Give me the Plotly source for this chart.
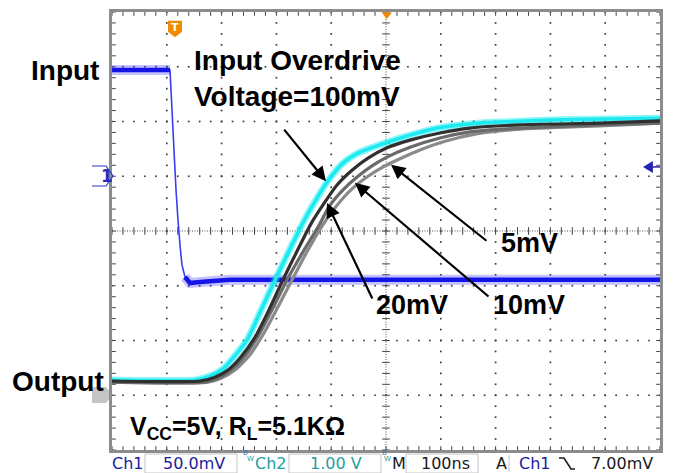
import plotly.graph_objects as go

# ---------------- data (time in ns, 100 ns/div; vertical in screen divisions) ----------------
t_input = [-500, -397.8, -394.2, -390.5, -386.9, -383.2, -379.6, -375.9, -372.3, -366.8, -357.7, -339.4, -284.7, 500]
v_input = [2.94, 2.94, 2.94, 2.21, 1.48, 0.75, 0.20, -0.26, -0.62, -0.84, -0.95, -0.93, -0.89, -0.89]

t_out_100mv = [-500, -348.5, -321.2, -297.4, -279.2, -253.6, -226.3, -198.9, -173.4, -147.8, -125.9, -107.7,
               -78.5, -47.4, 1.8, 43.8, 93.1, 147.8, 208.0, 317.5, 500]
v_out_100mv = [-2.72, -2.72, -2.65, -2.52, -2.32, -1.99, -1.41, -0.82, -0.29, 0.22, 0.60, 0.89,
               1.24, 1.44, 1.62, 1.75, 1.88, 1.95, 1.99, 2.03, 2.06]

t_out_20mv = [-500, -339.4, -312.0, -288.3, -266.4, -239.1, -213.5, -188.0, -162.4, -136.9, -111.3, -89.4,
              -62.0, -32.8, 1.8, 43.8, 98.5, 153.3, 244.5, 390.5, 500]
v_out_20mv = [-2.74, -2.74, -2.67, -2.54, -2.32, -1.94, -1.44, -0.89, -0.37, 0.13, 0.53, 0.84,
              1.11, 1.33, 1.52, 1.66, 1.79, 1.88, 1.94, 1.97, 2.01]

t_out_10mv = [-500, -330.3, -306.6, -282.8, -257.3, -229.9, -204.4, -178.8, -149.6, -124.1, -102.2, -76.6,
              -51.1, -25.5, 1.8, 43.8, 98.5, 153.3, 244.5, 390.5, 500]
v_out_10mv = [-2.76, -2.76, -2.69, -2.54, -2.28, -1.86, -1.37, -0.86, -0.35, 0.07, 0.47, 0.77,
              1.00, 1.19, 1.35, 1.53, 1.70, 1.81, 1.88, 1.94, 1.97]

t_out_5mv = [-500, -324.8, -301.1, -275.5, -248.2, -220.8, -195.3, -169.7, -144.2, -116.8, -89.4, -62.0,
             -32.8, -1.8, 25.5, 62.0, 107.7, 162.4, 244.5, 390.5, 500]
v_out_5mv = [-2.76, -2.76, -2.69, -2.54, -2.26, -1.83, -1.35, -0.86, -0.38, 0.09, 0.47, 0.77,
             1.00, 1.19, 1.32, 1.48, 1.64, 1.77, 1.86, 1.92, 1.97]

# arrow annotations: tip (t, div), tail (t, div)
arrow_tips_t = [-109.5, -107.7, -56.6, 9.1]
arrow_tips_v = [0.91, 0.51, 0.88, 1.21]
arrow_tails_t = [-188.0, -23.7, 189.8, 186.1]
arrow_tails_v = [1.88, -1.26, -1.22, -0.20]

status_texts = ["Ch1", "50.0mV", "Ch2", "1.00 V", "M", "100ns", "A", "Ch1", "7.00mV"]

# ---------------- geometry ----------------
W, H = 674, 473
ML, MR, MT, MB = 112, 14, 12, 23
X0, X1, Y0, Y1 = -500, 500, -4, 4


def P(px, py):
    """pixel -> paper coords"""
    return (px - ML) / (W - ML - MR), ((H - MB) - py) / (H - MT - MB)


fig = go.Figure()

# ---- graticule dots ----
gx, gy = [], []
for i in range(1, 10):
    if i == 5:
        continue
    x = X0 + 100 * i
    for j in range(41):
        gx.append(x); gy.append(Y0 + 0.2 * j)
for k in range(1, 8):
    if k == 4:
        continue
    y = Y0 + k
    for j in range(51):
        gx.append(X0 + 20 * j); gy.append(y)
fig.add_trace(go.Scatter(x=gx, y=gy, mode='markers', hoverinfo='skip',
                         marker=dict(symbol='square', size=1.7, color='#3a3a3a', line=dict(width=0))))

# ---- center cross ticks and border ticks ----
tx, ty = [], []
for j in range(51):
    x = X0 + 20 * j
    tx += [x, x, None]; ty += [-0.07, 0.07, None]
    tx += [x, x, None]; ty += [Y1, Y1 - 0.07, None]
    tx += [x, x, None]; ty += [Y0, Y0 + 0.07, None]
for j in range(41):
    y = Y0 + 0.2 * j
    tx += [-7, 7, None]; ty += [y, y, None]
    tx += [X0, X0 + 7, None]; ty += [y, y, None]
    tx += [X1, X1 - 7, None]; ty += [y, y, None]
fig.add_trace(go.Scatter(x=tx, y=ty, mode='lines', hoverinfo='skip',
                         line=dict(color='#444', width=1)))

shapes = [
    dict(type='line', xref='x', yref='y', x0=0, x1=0, y0=Y0, y1=Y1,
         line=dict(color='#555', width=1, dash='1px,1.5px'), layer='below'),
    dict(type='line', xref='x', yref='y', x0=X0, x1=X1, y0=0, y1=0,
         line=dict(color='#555', width=1, dash='1px,1.5px'), layer='below'),
]

# ---- input (blue): thin edge, thick noisy flat levels ----
BLUE = '#1414e6'
fig.add_trace(go.Scatter(x=t_input, y=v_input, mode='lines', hoverinfo='skip',
                         line=dict(color='#3c3cf0', width=1.6, simplify=False)))
flat_t = t_input[0:3] + [None] + t_input[9:]
flat_v = v_input[0:3] + [None] + v_input[9:]
fig.add_trace(go.Scatter(x=flat_t, y=flat_v, mode='lines', hoverinfo='skip', connectgaps=False,
                         line=dict(color='rgba(70,70,255,0.33)', width=10, simplify=False)))
fig.add_trace(go.Scatter(x=flat_t, y=flat_v, mode='lines', hoverinfo='skip', connectgaps=False,
                         line=dict(color=BLUE, width=4.5, simplify=False)))

# ---- outputs ----
fig.add_trace(go.Scatter(x=t_out_100mv, y=v_out_100mv, mode='lines', hoverinfo='skip',
                         line=dict(color='rgba(0,235,245,0.45)', width=7, shape='spline', smoothing=0.6)))
fig.add_trace(go.Scatter(x=t_out_100mv, y=v_out_100mv, mode='lines', hoverinfo='skip',
                         line=dict(color='#1ee8f0', width=3.5, shape='spline', smoothing=0.6)))
for tt, vv, col in [(t_out_5mv, v_out_5mv, '#8a8a8a'),
                    (t_out_10mv, v_out_10mv, '#6a6a6a'),
                    (t_out_20mv, v_out_20mv, '#303030')]:
    fig.add_trace(go.Scatter(x=tt, y=vv, mode='lines', hoverinfo='skip',
                             line=dict(color=col, width=3.2, shape='spline', smoothing=0.6)))

ann = []
LBL = dict(family='Liberation Sans, Arial, sans-serif', size=28, color='black')


def label(text, px, py, size=28, anchor='left'):
    x, y = P(px, py)
    f = dict(LBL); f['size'] = size
    ann.append(dict(text=text, x=x, y=y, xref='paper', yref='paper', xanchor=anchor, yanchor='middle',
                    showarrow=False, font=f))


label('<b>Input</b>', 29, 70)
label('<b>Output</b>', 10, 381)
label('<b>Input Overdrive</b>', 192, 61)
label('<b>Voltage=100mV</b>', 192, 97)
label('<b>5mV</b>', 499, 243, size=27)
label('<b>20mV</b>', 374, 305, size=27)
label('<b>10mV</b>', 491, 305, size=27)
label('<b>V<sub>CC</sub>=5V, R<sub>L</sub>=5.1KΩ</b>', 128, 428, size=25)

for i in range(len(arrow_tips_t)):
    ann.append(dict(x=arrow_tips_t[i], y=arrow_tips_v[i], ax=arrow_tails_t[i], ay=arrow_tails_v[i],
                    xref='x', yref='y', axref='x', ayref='y', text='', showarrow=True,
                    arrowhead=2, arrowsize=1.3, arrowwidth=2.2, arrowcolor='black', standoff=0))

# ---- scope markers ----
ORANGE = '#f28a00'
shapes.append(dict(type='path', xref='x', yref='y', fillcolor=ORANGE, line=dict(width=0),
                   path='M -397.8,3.84 L -372.3,3.84 L -372.3,3.64 L -385,3.54 L -397.8,3.64 Z'))
ann.append(dict(text='<b>T</b>', x=-385, y=3.72, xref='x', yref='y', showarrow=False,
                font=dict(family='DejaVu Sans', size=11, color='white')))
shapes.append(dict(type='path', xref='x', yref='y', fillcolor=ORANGE, line=dict(width=0),
                   path='M -8,3.99 L 11,3.99 L 1.5,3.87 Z'))
BLUE_M = '#2323b4'
shapes.append(dict(type='path', xref='x', yref='y', fillcolor=BLUE_M, line=dict(width=0),
                   path='M 469,1.17 L 487,1.28 L 487,1.06 Z'))
shapes.append(dict(type='line', xref='x', yref='y', x0=485, x1=500, y0=1.17, y1=1.17,
                   line=dict(color=BLUE_M, width=1.5)))

# channel 1 marker (left)
a = P(92, 166); b = P(106, 166); c = P(113, 176); d = P(106, 186); e = P(92, 186)
shapes.append(dict(type='path', xref='paper', yref='paper', line=dict(color='#3434c8', width=1.2),
                   path=f'M {a[0]},{a[1]} L {b[0]},{b[1]} L {c[0]},{c[1]} L {d[0]},{d[1]} L {e[0]},{e[1]}'))
x1_, y1_ = P(99, 176)
ann.append(dict(text='<b>1</b>', x=x1_, y=y1_, xref='paper', yref='paper', showarrow=False,
                font=dict(family='DejaVu Sans', size=17, color='#2a2ab8')))
# channel 2 marker (left, gray)
a = P(92, 387); b = P(106, 387); c = P(113, 395); d = P(106, 403); e = P(92, 403)
shapes.append(dict(type='path', xref='paper', yref='paper', line=dict(width=0), fillcolor='rgba(150,150,150,0.55)',
                   path=f'M {a[0]},{a[1]} L {b[0]},{b[1]} L {c[0]},{c[1]} L {d[0]},{d[1]} L {e[0]},{e[1]} Z'))

# ---- status bar ----
NAVY = '#1c1c9e'
TEAL = '#23a0a0'
DARK = '#1a1a1a'
SF = 'DejaVu Sans, sans-serif'
status_cols = [NAVY, NAVY, TEAL, TEAL, DARK, DARK, DARK, NAVY, DARK]
status_cx = [128, 194, 271, 336, 399, 445, 501, 535, 622]
for txt, col, cx in zip(status_texts, status_cols, status_cx):
    x, y = P(cx, 463)
    ann.append(dict(text=txt, x=x, y=y, xref='paper', yref='paper', xanchor='center', yanchor='middle',
                    showarrow=False, font=dict(family=SF, size=16, color=col)))
for bx0, bx1 in [(145, 237), (289, 381), (406, 478)]:
    p0 = P(bx0, 454); p1 = P(bx1, 473)
    shapes.append(dict(type='rect', xref='paper', yref='paper', x0=p0[0], x1=p1[0], y0=p0[1], y1=p1[1],
                       line=dict(color='#c4c4c4', width=1)))
p0 = P(509, 455); p1 = P(509, 472)
shapes.append(dict(type='line', xref='paper', yref='paper', x0=p0[0], x1=p1[0], y0=p0[1], y1=p1[1],
                   line=dict(color='#c4c4c4', width=1)))
# BW badges
for bx, col in [(243, '#3a6aa0'), (386, '#3a6aa0')]:
    xb, yb = P(bx - 2, 459); xw, yw = P(bx + 1.5, 465)
    ann.append(dict(text='B', x=xb, y=yb, xref='paper', yref='paper', showarrow=False,
                    font=dict(family=SF, size=7, color=col)))
    ann.append(dict(text='W', x=xw, y=yw, xref='paper', yref='paper', showarrow=False,
                    font=dict(family=SF, size=7, color=TEAL)))
# falling-edge glyph
q = [P(559, 458), P(564, 458), P(571, 469), P(575, 469)]
shapes.append(dict(type='path', xref='paper', yref='paper', line=dict(color=DARK, width=1.6),
                   path='M ' + ' L '.join(f'{u},{v}' for u, v in q)))

fig.update_layout(
    width=W, height=H, margin=dict(l=ML, r=MR, t=MT, b=MB, autoexpand=False),
    paper_bgcolor='white', plot_bgcolor='white', showlegend=False,
    xaxis=dict(range=[X0, X1], showgrid=False, zeroline=False, showticklabels=False, ticks='',
               showline=True, mirror=True, linecolor='#8c8c8c', linewidth=2.5, fixedrange=True),
    yaxis=dict(range=[Y0, Y1], showgrid=False, zeroline=False, showticklabels=False, ticks='',
               showline=True, mirror=True, linecolor='#8c8c8c', linewidth=2.5, fixedrange=True),
    shapes=shapes, annotations=ann,
)

fig.write_html("out.html", config={'displayModeBar': False},
               post_script="document.body.style.margin='0';")
